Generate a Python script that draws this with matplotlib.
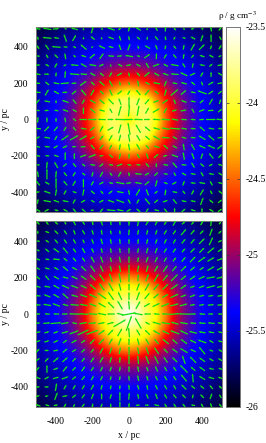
import numpy as np
import matplotlib
matplotlib.use("Agg")
import matplotlib.pyplot as plt
from matplotlib.colors import LinearSegmentedColormap

plt.rcParams['font.family'] = ['Liberation Serif', 'DejaVu Serif']
plt.rcParams['mathtext.fontset'] = 'stix'
plt.rcParams['axes.unicode_minus'] = False

ticks = [-400, -200, 0, 200, 400]
cbar_ticks = [-26, -25.5, -25, -24.5, -24, -23.5]
cbar_labels = ['-26', '-25.5', '-25', '-24.5', '-24', '-23.5']

# log10 density * 100, one quadrant, rows |y| = 0,50..500, cols |x| = 0,50..500
rho_top = [
 [-2415,-2395,-2388,-2410,-2450,-2480,-2505,-2522,-2536,-2545,-2552],
 [-2395,-2390,-2388,-2418,-2454,-2483,-2507,-2523,-2536,-2545,-2552],
 [-2388,-2388,-2400,-2435,-2466,-2490,-2511,-2526,-2537,-2547,-2554],
 [-2410,-2418,-2435,-2458,-2480,-2501,-2518,-2530,-2540,-2548,-2556],
 [-2450,-2454,-2466,-2480,-2497,-2513,-2525,-2536,-2544,-2551,-2558],
 [-2480,-2483,-2490,-2501,-2513,-2523,-2533,-2541,-2548,-2555,-2561],
 [-2505,-2507,-2511,-2518,-2525,-2533,-2540,-2547,-2552,-2558,-2565],
 [-2522,-2523,-2526,-2530,-2536,-2541,-2547,-2551,-2557,-2563,-2569],
 [-2536,-2536,-2537,-2540,-2544,-2548,-2552,-2557,-2562,-2568,-2573],
 [-2545,-2545,-2547,-2548,-2551,-2555,-2558,-2563,-2568,-2573,-2578],
 [-2552,-2552,-2554,-2556,-2558,-2561,-2565,-2569,-2573,-2578,-2583],
]
rho_bot = [
 [-2350,-2365,-2392,-2412,-2442,-2480,-2505,-2522,-2536,-2545,-2552],
 [-2365,-2375,-2398,-2416,-2447,-2483,-2507,-2523,-2536,-2545,-2552],
 [-2392,-2398,-2408,-2428,-2462,-2490,-2511,-2526,-2537,-2547,-2554],
 [-2412,-2416,-2428,-2452,-2480,-2501,-2518,-2530,-2540,-2548,-2556],
 [-2442,-2447,-2462,-2480,-2497,-2513,-2525,-2536,-2544,-2551,-2558],
 [-2480,-2483,-2490,-2501,-2513,-2523,-2533,-2541,-2548,-2555,-2561],
 [-2505,-2507,-2511,-2518,-2525,-2533,-2540,-2547,-2552,-2558,-2565],
 [-2522,-2523,-2526,-2530,-2536,-2541,-2547,-2551,-2557,-2563,-2569],
 [-2536,-2536,-2537,-2540,-2544,-2548,-2552,-2557,-2562,-2568,-2573],
 [-2545,-2545,-2547,-2548,-2551,-2555,-2558,-2563,-2568,-2573,-2578],
 [-2552,-2552,-2554,-2556,-2558,-2561,-2565,-2569,-2573,-2578,-2583],
]

# velocity vectors: orientation in degrees, rows y=500..-500, cols x=-500..500
angle_top = [
 [170,170,5,175,165,95,75,140,160,30,75,150,60,120,85,130,140,10,170,100,50],
 [100,175,170,110,60,95,140,90,160,110,100,140,85,130,100,60,165,150,70,90,120],
 [120,125,175,175,150,140,30,155,165,110,70,110,150,110,75,130,80,60,45,70,60],
 [170,120,135,100,140,160,40,55,175,5,170,165,35,90,60,130,80,50,160,150,30],
 [5,150,60,30,175,150,170,25,90,150,10,150,120,20,150,170,120,80,170,40,10],
 [170,0,85,85,175,175,150,140,60,30,100,130,40,150,160,175,155,25,60,90,150],
 [175,140,170,5,5,35,135,140,120,100,110,100,150,170,70,170,165,140,110,30,10],
 [175,60,150,5,40,130,60,135,115,40,60,130,50,140,75,40,40,170,160,35,40],
 [50,170,90,160,130,60,150,140,135,110,90,70,50,20,35,110,160,170,40,60,70],
 [175,5,170,160,150,90,140,165,120,75,85,80,60,30,60,15,10,120,20,5,40],
 [85,90,90,100,140,0,0,178,0,178,0,178,0,175,175,170,175,175,5,0,175],
 [175,45,50,60,130,170,40,60,30,75,100,120,140,165,170,175,170,175,140,170,175],
 [30,170,60,35,30,30,30,50,60,75,100,120,140,150,175,150,165,175,150,140,10],
 [165,175,30,25,5,5,130,50,60,80,100,120,130,165,140,150,100,120,155,155,40],
 [170,175,160,90,90,20,20,10,140,80,90,120,110,40,15,160,100,110,70,130,50],
 [175,85,120,40,130,140,170,40,170,20,170,175,130,85,170,130,175,120,140,30,160],
 [100,90,85,130,60,140,75,60,130,60,100,175,30,45,170,120,150,170,120,170,150],
 [130,150,90,130,60,90,60,30,170,170,10,170,40,75,160,30,70,175,170,120,165],
 [10,160,80,60,160,80,140,130,40,170,100,60,110,40,80,170,130,60,60,120,140],
 [80,170,160,170,60,30,150,30,160,160,120,60,130,40,20,130,170,170,70,140,40],
 [150,30,170,150,130,140,10,50,175,170,30,140,60,170,130,90,40,165,90,150,35],
]
angle_bot = [
 [135,130,140,120,118,125,100,110,100,95,90,80,60,65,55,60,40,50,60,85,50],
 [90,160,135,125,110,120,108,100,100,95,85,80,75,70,60,55,50,50,45,70,45],
 [170,145,130,125,120,115,110,105,100,95,90,85,75,70,65,60,50,50,45,65,30],
 [150,140,145,130,125,120,115,105,100,95,90,80,75,70,60,55,50,45,45,40,35],
 [160,170,175,140,130,125,120,110,105,100,90,80,70,65,60,50,50,45,35,30,20],
 [150,165,150,140,150,135,125,115,105,100,90,80,75,60,55,50,45,40,35,30,30],
 [140,130,150,165,155,145,135,125,110,100,90,85,70,60,50,45,40,35,25,10,15],
 [165,170,150,155,160,155,140,125,120,105,90,70,60,50,45,35,35,20,20,15,15],
 [175,160,150,140,165,160,155,145,125,115,90,70,50,40,30,25,20,20,15,10,10],
 [175,170,160,165,175,170,160,150,135,120,95,60,30,25,20,15,15,10,10,5,5],
 [180,175,178,0,178,175,175,170,180,165,10,170,180,175,178,5,178,0,175,0,178],
 [5,5,5,10,170,10,5,10,15,30,70,120,150,165,170,165,170,175,175,175,175],
 [10,15,20,15,20,25,20,35,45,60,95,120,135,150,155,160,155,165,170,170,165],
 [20,15,25,35,30,35,45,45,60,70,90,105,120,130,140,140,145,155,160,150,165],
 [50,0,10,40,30,45,50,60,70,80,90,100,110,125,135,145,150,155,130,160,150],
 [35,45,40,40,45,50,55,60,75,85,90,95,110,115,125,135,110,135,145,150,150],
 [50,90,20,50,45,55,55,65,70,80,90,100,110,115,120,125,135,140,145,165,160],
 [160,30,15,20,40,50,60,65,75,80,95,100,105,115,120,125,130,95,150,165,160],
 [10,0,80,60,60,60,60,75,80,85,95,105,100,115,120,120,135,140,140,130,135],
 [20,10,70,10,40,55,70,90,75,90,85,100,110,110,120,130,135,80,135,70,120],
 [160,165,10,60,60,50,80,70,90,90,85,5,0,170,120,125,130,170,120,110,130],
]
# vector lengths in pc, by rows as above
length_top = [
 [30,50,35,15,40,15,50,15,45,20,30,35,15,25,30,20,15,20,15,30,25],
 [20,50,30,45,40,15,30,15,35,30,25,25,20,30,25,20,20,30,40,45,25],
 [25,35,50,25,20,45,15,40,30,35,40,20,35,30,25,25,30,45,45,25,30],
 [20,25,30,35,20,30,40,40,35,30,45,20,40,35,30,30,30,25,30,30,20],
 [30,25,30,20,45,40,40,30,15,30,30,30,35,40,30,45,30,30,30,25,30],
 [30,30,25,40,55,40,35,30,30,35,25,30,40,35,35,45,45,35,30,30,35],
 [25,30,35,50,30,45,30,40,40,25,20,35,30,40,35,30,35,30,25,35,30],
 [30,40,35,30,35,45,40,30,40,35,30,40,40,30,40,55,40,30,55,35,30],
 [35,35,20,40,35,30,40,40,45,40,55,45,40,35,40,30,35,30,30,40,30],
 [20,25,25,35,30,40,40,35,30,60,65,60,40,45,35,30,35,30,35,35,30],
 [35,30,25,30,25,45,50,45,35,60,50,50,35,45,50,40,35,30,30,55,50],
 [35,40,35,30,30,35,35,40,40,55,70,55,40,40,45,60,35,30,40,35,30],
 [30,35,30,50,55,50,30,35,40,40,45,40,35,45,45,30,30,30,45,45,30],
 [25,30,30,30,25,30,35,35,30,35,40,40,30,35,35,30,40,40,40,45,40],
 [25,25,30,45,35,40,45,25,30,35,30,30,35,35,25,40,45,40,35,40,30],
 [20,40,40,30,30,25,30,30,25,35,25,25,30,25,30,40,30,35,30,25,30],
 [35,60,40,30,30,25,30,35,25,35,25,40,30,30,25,25,30,30,30,30,30],
 [35,30,60,35,35,50,30,30,25,50,30,40,35,40,25,30,30,30,35,30,30],
 [25,40,40,30,25,40,30,25,30,40,30,45,40,25,35,30,25,30,40,25,30],
 [30,45,35,35,30,30,25,30,40,50,30,30,45,30,30,35,30,30,45,30,30],
 [30,30,25,30,30,30,20,30,50,40,30,30,30,30,30,30,30,30,30,30,30],
]
length_bot = [
 [25,25,25,20,30,25,25,30,25,25,30,35,30,30,25,35,25,25,30,35,20],
 [20,25,30,30,30,30,30,30,25,25,35,30,30,30,30,30,45,35,30,45,25],
 [20,25,30,30,30,25,30,35,30,30,30,30,30,30,30,30,35,35,45,50,25],
 [20,30,40,45,30,35,30,30,30,30,35,30,35,35,30,30,30,35,40,50,30],
 [25,25,40,30,30,30,40,40,30,35,40,30,35,35,30,30,35,45,50,45,35],
 [25,30,30,40,35,40,45,40,35,40,50,40,40,40,45,40,45,35,30,45,40],
 [30,35,35,35,40,40,45,50,50,55,50,40,45,50,45,55,40,40,40,50,40],
 [30,35,40,45,45,40,45,50,55,45,40,45,50,45,45,50,40,30,35,50,35],
 [30,40,40,45,40,45,50,60,55,50,45,50,45,40,40,50,35,35,30,30,30],
 [30,45,45,35,50,45,45,50,50,55,50,50,40,45,50,50,45,30,30,35,30],
 [25,30,35,35,60,50,50,50,45,40,80,50,40,35,45,55,60,40,35,30,30],
 [30,40,60,45,30,45,45,40,40,80,90,70,30,50,50,45,45,35,40,40,35],
 [35,30,30,40,55,70,70,45,45,50,55,40,40,45,45,55,50,45,40,35,30],
 [35,30,30,30,35,30,40,45,40,45,40,40,40,40,45,40,45,40,50,30,30],
 [30,25,30,35,30,30,30,40,40,40,50,40,45,45,35,40,50,35,55,25,25],
 [30,30,40,40,30,30,35,40,35,35,50,50,50,50,40,40,50,50,40,30,30],
 [30,45,30,40,30,35,30,30,30,30,35,35,30,35,30,30,60,35,40,30,25],
 [30,30,35,40,30,30,30,30,25,25,30,35,30,30,30,30,50,50,40,35,30],
 [25,25,45,30,30,30,35,30,25,25,30,30,30,30,30,30,40,30,30,30,25],
 [25,20,45,30,30,30,35,35,30,50,40,30,30,35,30,30,30,25,30,35,25],
 [30,25,25,25,20,25,25,25,25,45,30,25,25,30,25,25,25,25,25,30,25],
]

palette = LinearSegmentedColormap.from_list(
    'rho', [(0.0, '#000000'), (0.25, '#0000ff'), (0.5, '#ff0000'),
            (0.75, '#ffff00'), (1.0, '#ffffff')], N=512)

W, H = 266, 443
fig = plt.figure(figsize=(W / 100, H / 100), dpi=100)

def axes_px(x0, y0, x1, y1):
    return fig.add_axes([x0 / W, 1 - y1 / H, (x1 - x0) / W, (y1 - y0) / H])

def mirror(q):
    q = np.array(q) / 100.0
    r = np.vstack([q[:0:-1], q])
    return np.hstack([r[:, :0:-1], r])

grid = np.arange(-500, 501, 50)
GX, GY = np.meshgrid(grid, grid[::-1])

def panel(ax, quad, ang, length):
    im = ax.imshow(mirror(quad), extent=[-525, 525, -525, 525], origin='lower',
                   cmap=palette, vmin=-26, vmax=-23.5, interpolation='bilinear',
                   aspect='auto')
    a = np.radians(np.array(ang, float))
    L = np.array(length, float)
    ax.quiver(GX, GY, L * np.cos(a), L * np.sin(a), angles='xy', scale_units='xy',
              scale=1, units='xy', width=7.0, headwidth=1.6, headlength=2,
              headaxislength=2, pivot='mid', color='#14e014', zorder=3)
    ax.set_xlim(-510, 510)
    ax.set_ylim(-510, 510)
    ax.set_xticks(ticks)
    ax.set_yticks(ticks)
    ax.tick_params(direction='in', top=True, right=True, length=2.2, width=0.5,
                   color='#333333', labelsize=7, pad=5.5)
    ax.tick_params(axis='x', pad=7)
    for s in ax.spines.values():
        s.set_linewidth(0.7)
        s.set_color('#777777')
    ax.set_ylabel('y / pc', fontsize=7, labelpad=0)
    return im

ax1 = axes_px(36, 27, 222, 212)
ax2 = axes_px(36, 221, 222, 407)
im = panel(ax1, rho_top, angle_top, length_top)
panel(ax2, rho_bot, angle_bot, length_bot)
ax1.tick_params(labelbottom=False)
ax2.set_xlabel('x / pc', fontsize=7, labelpad=3.5)

cax = axes_px(226, 27, 240, 407)
cb = fig.colorbar(im, cax=cax)
cb.set_ticks(cbar_ticks)
cb.set_ticklabels(cbar_labels)
cax.tick_params(direction='in', left=True, right=True, length=2.2, width=0.5,
                color='#333333', labelsize=7, pad=4)
cb.outline.set_linewidth(0.7)
cb.outline.set_edgecolor('#777777')
fig.text(237 / W, 1 - 16 / H, 'ρ / g cm$^{-3}$', fontsize=6.6, ha='center', va='center')

fig.savefig('out.png', dpi=100)
